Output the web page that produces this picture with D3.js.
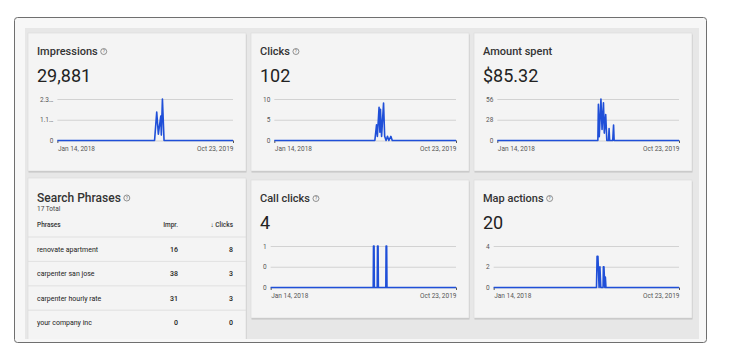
<!DOCTYPE html>
<html>
<head>
<meta charset="utf-8">
<script src="https://cdn.jsdelivr.net/npm/d3@7"></script>
<style>
  body { margin: 0; background: #fff; font-family: Roboto, "Noto Sans", sans-serif; }
  svg text { font-family: Roboto, "Noto Sans", sans-serif; }
</style>
</head>
<body>
<svg id="board" width="740" height="355"></svg>
<script>
(function () {
  'use strict';

  // date span shared by all the small charts
  var dateRange = ['2018-01-14', '2019-10-23'];

  // daily series, only the days that change are listed (rest is zero)
  var impressionsSeries = [
    ['2018-01-14', 0], ['2019-01-07', 0], ['2019-01-15', 1570], ['2019-01-21', 350],
    ['2019-01-30', 1350], ['2019-02-01', 300], ['2019-02-05', 2300], ['2019-02-11', 0],
    ['2019-10-23', 0]
  ];
  var clicksSeries = [
    ['2018-01-14', 0], ['2019-01-07', 0], ['2019-01-13', 3.8], ['2019-01-16', 1],
    ['2019-01-22', 8], ['2019-01-25', 2], ['2019-01-27', 7.5], ['2019-01-31', 1],
    ['2019-02-07', 9], ['2019-02-11', 1], ['2019-02-16', 0], ['2019-02-21', 1],
    ['2019-02-26', 0], ['2019-03-05', 1], ['2019-03-10', 0], ['2019-10-23', 0]
  ];
  var amountSeries = [
    ['2018-01-14', 0], ['2019-01-07', 0], ['2019-01-09', 49], ['2019-01-12', 5],
    ['2019-01-18', 56], ['2019-01-22', 15], ['2019-01-27', 51], ['2019-01-30', 10],
    ['2019-02-04', 35], ['2019-02-08', 0], ['2019-02-14', 0], ['2019-02-16', 16],
    ['2019-02-18', 0], ['2019-03-01', 0], ['2019-03-04', 21], ['2019-03-06', 0],
    ['2019-10-23', 0]
  ];
  var callClicksSeries = [
    ['2018-01-14', 0], ['2019-01-07', 0], ['2019-01-08', 1], ['2019-01-10', 1],
    ['2019-01-11', 0], ['2019-01-21', 0], ['2019-01-22', 1], ['2019-01-24', 1],
    ['2019-01-25', 0], ['2019-02-20', 0], ['2019-02-21', 1], ['2019-02-23', 1],
    ['2019-02-24', 0], ['2019-10-23', 0]
  ];
  var mapActionsSeries = [
    ['2018-01-14', 0], ['2019-01-08', 0], ['2019-01-10', 3], ['2019-01-13', 3],
    ['2019-01-17', 0], ['2019-01-20', 2], ['2019-01-23', 0], ['2019-01-31', 0],
    ['2019-02-01', 2], ['2019-02-03', 2], ['2019-02-06', 0], ['2019-02-08', 1],
    ['2019-02-10', 0], ['2019-10-23', 0]
  ];

  // y tick values and the labels printed next to them
  var impressionsTicks = [0, 1150, 2300];
  var impressionsTickLabels = ['0', '1.1…', '2.3…'];
  var clicksTicks = [0, 5, 10];
  var clicksTickLabels = ['0', '5', '10'];
  var amountTicks = [0, 28, 56];
  var amountTickLabels = ['0', '28', '56'];
  var callClicksTicks = [0, 0.5, 1];
  var callClicksTickLabels = ['0', '0', '1'];
  var mapActionsTicks = [0, 2, 4];
  var mapActionsTickLabels = ['0', '2', '4'];

  // search phrases table
  var phrases = ['renovate apartment', 'carpenter san jose', 'carpenter hourly rate', 'your company inc'];
  var phraseImpr = [16, 38, 31, 0];
  var phraseClicks = [8, 3, 3, 0];
  var phraseTotal = 17;

  var parseDate = d3.timeParse('%Y-%m-%d');
  var fmtDate = d3.timeFormat('%b %d, %Y');

  var svg = d3.select('#board');

  // outer frame + grey inner area
  svg.append('rect').attr('x', 14.5).attr('y', 17.5).attr('width', 692).attr('height', 325)
    .attr('rx', 3).attr('fill', '#f7f7f7').attr('stroke', '#6f6f6f');
  svg.append('rect').attr('x', 25).attr('y', 28).attr('width', 674).attr('height', 311)
    .attr('fill', '#e7e7e7');

  svg.append('clipPath').attr('id', 'innerClip')
    .append('rect').attr('x', 25).attr('y', 28).attr('width', 674).attr('height', 311);

  var layer = svg.append('g').attr('clip-path', 'url(#innerClip)');

  var metricCards = [
    { title: 'Impressions', total: '29,881', help: true, series: impressionsSeries, ticks: impressionsTicks, labels: impressionsTickLabels, col: 0, row: 0 },
    { title: 'Clicks', total: '102', help: true, series: clicksSeries, ticks: clicksTicks, labels: clicksTickLabels, col: 1, row: 0 },
    { title: 'Amount spent', total: '$85.32', help: false, series: amountSeries, ticks: amountTicks, labels: amountTickLabels, col: 2, row: 0 },
    { title: 'Call clicks', total: '4', help: true, series: callClicksSeries, ticks: callClicksTicks, labels: callClicksTickLabels, col: 1, row: 1 },
    { title: 'Map actions', total: '20', help: true, series: mapActionsSeries, ticks: mapActionsTicks, labels: mapActionsTickLabels, col: 2, row: 1 }
  ];

  var colX = [28, 251, 474];
  var rowY = [33, 180];
  var cardW = 218;
  var cardH = 138;

  metricCards.forEach(function (c) {
    drawMetricCard(c, colX[c.col], rowY[c.row]);
  });
  drawPhraseCard(colX[0], 178);

  function cardBox(x, y, w, h) {
    var g = layer.append('g');
    g.append('rect').attr('x', x + 0.5).attr('y', y + 1.5).attr('width', w).attr('height', h)
      .attr('fill', '#c4c4c4');
    g.append('rect').attr('x', x).attr('y', y).attr('width', w).attr('height', h)
      .attr('fill', '#f4f4f4').attr('stroke', '#dadada').attr('stroke-width', 0.6);
    return g;
  }

  function helpIcon(g, x, y) {
    g.append('circle').attr('cx', x).attr('cy', y).attr('r', 3)
      .attr('fill', 'none').attr('stroke', '#666').attr('stroke-width', 0.7);
    g.append('text').attr('x', x).attr('y', y + 1.6).attr('text-anchor', 'middle')
      .attr('font-size', 4.5).attr('fill', '#666').text('?');
  }

  function drawMetricCard(c, x, y) {
    var g = cardBox(x, y, cardW, cardH);
    var title = g.append('text').attr('x', x + 9).attr('y', y + 22)
      .attr('font-size', 11).attr('font-weight', 500).attr('fill', '#333').text(c.title);
    if (c.help) {
      var tw = title.node().getComputedTextLength();
      helpIcon(g, x + 9 + tw + 6, y + 18.5);
    }
    g.append('text').attr('x', x + 9).attr('y', y + 49)
      .attr('font-size', 18).attr('fill', '#222').text(c.total);

    // measure tick labels to place the plot like the original
    var probe = g.append('text').attr('font-size', 6.5);
    var labelW = d3.max(c.labels, function (l) { probe.text(l); return probe.node().getComputedTextLength(); });
    probe.remove();

    var left = x + 11 + labelW + 5;
    var right = x + cardW - 13;
    var top = y + 66;
    var bottom = y + 107.5;

    var xScale = d3.scaleTime().domain(dateRange.map(parseDate)).range([left, right]);
    var yScale = d3.scaleLinear().domain([0, c.ticks[c.ticks.length - 1]]).range([bottom, top]);

    var yAxis = g.append('g').attr('transform', 'translate(' + left + ',0)')
      .call(d3.axisLeft(yScale).tickValues(c.ticks).tickSize(-(right - left)).tickPadding(4)
        .tickFormat(function (d, i) { return c.labels[i]; }));
    yAxis.select('.domain').remove();
    yAxis.selectAll('line').attr('stroke', '#d2d2d2').attr('stroke-width', 1);
    yAxis.selectAll('text').attr('font-size', 6.5).attr('fill', '#555').attr('font-family', 'Roboto, sans-serif');

    var xAxis = g.append('g').attr('transform', 'translate(0,' + bottom + ')')
      .call(d3.axisBottom(xScale).tickValues(dateRange.map(parseDate)).tickSize(2.5).tickPadding(3)
        .tickFormat(fmtDate));
    xAxis.select('.domain').remove();
    xAxis.selectAll('line').attr('stroke', '#555');
    xAxis.selectAll('text').attr('font-size', 6.5).attr('fill', '#555').attr('font-family', 'Roboto, sans-serif')
      .attr('text-anchor', function (d, i) { return i === 0 ? 'start' : 'end'; });

    var line = d3.line()
      .x(function (d) { return xScale(parseDate(d[0])); })
      .y(function (d) { return yScale(d[1]); });
    g.append('path').datum(c.series).attr('d', line)
      .attr('fill', 'none').attr('stroke', '#1f4fd8').attr('stroke-width', 1.6)
      .attr('stroke-linejoin', 'round');
  }

  function drawPhraseCard(x, y) {
    var g = cardBox(x, y, cardW, 175);
    var title = g.append('text').attr('x', x + 9).attr('y', y + 24)
      .attr('font-size', 12).attr('font-weight', 500).attr('fill', '#333').text('Search Phrases');
    helpIcon(g, x + 9 + title.node().getComputedTextLength() + 6, y + 20);
    g.append('text').attr('x', x + 9).attr('y', y + 33)
      .attr('font-size', 6.5).attr('fill', '#444').text(phraseTotal + ' Total');

    var colImpr = x + 150;
    var colClicks = x + 205;
    var head = g.append('g').attr('font-size', 6.5).attr('font-weight', 500).attr('fill', '#333');
    head.append('text').attr('x', x + 9).attr('y', y + 49).text('Phrases');
    head.append('text').attr('x', colImpr).attr('y', y + 49).attr('text-anchor', 'end').text('Impr.');
    head.append('text').attr('x', colClicks).attr('y', y + 49).attr('text-anchor', 'end').text('↓ Clicks');

    var rowScale = d3.scaleBand().domain(phrases).range([y + 59, y + 59 + phrases.length * 24.4]);

    var rows = g.selectAll('g.row').data(phrases).enter().append('g').attr('class', 'row');
    rows.append('line')
      .attr('x1', x).attr('x2', x + cardW)
      .attr('y1', function (d) { return rowScale(d); })
      .attr('y2', function (d) { return rowScale(d); })
      .attr('stroke', '#dcdcdc').attr('stroke-width', 0.8);
    rows.append('text').attr('x', x + 9)
      .attr('y', function (d) { return rowScale(d) + rowScale.bandwidth() / 2 + 2.5; })
      .attr('font-size', 7).attr('fill', '#222').text(function (d) { return d; });
    rows.append('text').attr('x', colImpr).attr('text-anchor', 'end')
      .attr('y', function (d) { return rowScale(d) + rowScale.bandwidth() / 2 + 2.5; })
      .attr('font-size', 7).attr('font-weight', 500).attr('fill', '#222')
      .text(function (d, i) { return phraseImpr[i]; });
    rows.append('text').attr('x', colClicks).attr('text-anchor', 'end')
      .attr('y', function (d) { return rowScale(d) + rowScale.bandwidth() / 2 + 2.5; })
      .attr('font-size', 7).attr('font-weight', 500).attr('fill', '#222')
      .text(function (d, i) { return phraseClicks[i]; });
  }
})();
</script>
</body>
</html>
